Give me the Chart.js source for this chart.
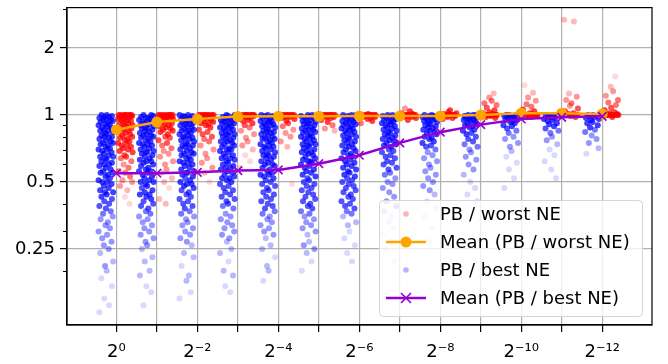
<!DOCTYPE html>
<html>
<head>
<meta charset="utf-8">
<script src="https://cdn.jsdelivr.net/npm/chart.js@4.4.1/dist/chart.umd.min.js"></script>
<style>
  html, body { margin: 0; padding: 0; background: #fff; }
  #chart { display: block; }
</style>
</head>
<body>
<canvas id="chart" width="668" height="364"></canvas>
<script>
// x categories: 2^0 ... 2^-12 (index i means 2^-i)
const categories = [0, 1, 2, 3, 4, 5, 6, 7, 8, 9, 10, 11, 12];
const xTickLabels = ["2⁰", "", "2⁻²", "", "2⁻⁴", "", "2⁻⁶", "", "2⁻⁸", "", "2⁻¹⁰", "", "2⁻¹²"];
const yTicks = [0.25, 0.5, 1, 2];
const yMinorTicks = [0.2, 0.3, 0.4, 0.6, 0.7, 0.8, 0.9, 3];

// mean lines
const worstMean = [0.86, 0.93, 0.96, 0.985, 0.987, 0.988, 0.99, 0.99, 0.99, 1.0, 1.02, 1.02, 1.01];
const bestMean = [0.548, 0.548, 0.553, 0.563, 0.567, 0.605, 0.66, 0.75, 0.838, 0.906, 0.96, 0.977, 0.987];

// PB / worst NE samples, one list per category
const worstNE = [
  [1,1,1,1,1,1,1,1,0.99,0.99,0.98,0.98,0.97,0.97,0.96,0.95,0.95,0.94,0.93,0.92,0.91,0.9,0.9,0.89,0.88,0.87,0.86,0.85,0.84,0.83,0.82,0.81,0.8,0.79,0.78,0.77,0.76,0.75,0.74,0.73,0.72,0.71,0.7,0.69,0.68,0.66,0.65,0.64,0.62,0.6,0.58,0.56,0.55,0.53,0.51,0.5,0.48,0.46,0.43,0.4],
  [1,1,1,1,1,1,1,1,0.99,0.99,0.98,0.98,0.97,0.96,0.96,0.95,0.94,0.93,0.92,0.91,0.9,0.89,0.88,0.87,0.86,0.85,0.84,0.82,0.8,0.79,0.77,0.75,0.73,0.71,0.69,0.67,0.65,0.62,0.6,0.57,0.55,0.52,0.5,0.47,0.42,0.4],
  [1,1,1,1,1,1,1,1,1,0.99,0.99,0.98,0.98,0.97,0.97,0.96,0.95,0.94,0.93,0.92,0.91,0.9,0.88,0.86,0.84,0.82,0.8,0.78,0.76,0.73,0.7,0.67,0.64,0.61,0.58,0.55,0.5],
  [1,1,1,1,1,1,1,1,1,1,0.99,0.99,0.99,0.98,0.98,0.97,0.96,0.95,0.94,0.92,0.9,0.88,0.85,0.82,0.79,0.76,0.73,0.7,0.66,0.62,0.58],
  [1,1,1,1,1,1,1,1,1,1,0.99,0.99,0.99,0.98,0.98,0.97,0.96,0.94,0.92,0.89,0.86,0.83,0.8,0.76,0.72,0.49],
  [1,1,1,1,1,1,1,1,1,1,0.99,0.99,0.99,0.98,0.98,0.97,0.95,0.93,0.9,0.87,0.85],
  [1,1,1,1,1,1,1,1,1,1,1.01,0.99,0.99,0.98,0.98,0.97,0.96,0.94,0.92],
  [1,1,1,1,1,1,1,1,1,1,1.01,1.02,1.04,1.07,0.99,0.99,0.98,0.98,0.97,0.95],
  [1,1,1,1,1,1,1,1,1,1,1.01,1.02,1.03,1.05,0.99,0.99,0.98,0.97,0.96],
  [1,1,1,1,1,1,1,1,1,1,1.01,1.02,1.03,1.05,1.08,1.11,1.13,1.16,1.2,1.25,0.99,0.99,0.98,0.97],
  [1,1,1,1,1,1,1,1,1,1,1.01,1.02,1.04,1.06,1.09,1.12,1.16,1.2,1.26,1.36,0.99,0.99,0.98],
  [1,1,1,1,1,1,1,1,1,1,1.01,1.02,1.04,1.07,1.1,1.13,1.17,1.21,1.25,2.63,2.68,0.99,0.98],
  [1,1,1,1,1,1,1,1,1,1,1.01,1.02,1.03,1.05,1.08,1.11,1.14,1.17,1.22,1.28,1.34,1.49,0.99,0.98]
];

// PB / best NE samples, one list per category
const bestNE = [
  [1,1,0.99,0.98,0.98,0.97,0.96,0.95,0.95,0.94,0.93,0.92,0.91,0.9,0.9,0.89,0.88,0.87,0.86,0.85,0.85,0.84,0.83,0.82,0.81,0.8,0.8,0.79,0.78,0.77,0.76,0.75,0.75,0.74,0.73,0.72,0.71,0.7,0.7,0.69,0.68,0.67,0.66,0.65,0.65,0.64,0.63,0.62,0.61,0.6,0.6,0.59,0.58,0.57,0.56,0.55,0.55,0.54,0.53,0.52,0.51,0.5,0.5,0.49,0.48,0.47,0.46,0.45,0.45,0.44,0.43,0.42,0.41,0.4,0.39,0.38,0.37,0.36,0.35,0.34,0.33,0.32,0.31,0.3,0.29,0.28,0.27,0.26,0.25,0.24,0.22,0.21,0.2,0.185,0.17,0.15,0.14,0.13],
  [1,1,0.99,0.98,0.97,0.97,0.96,0.95,0.94,0.93,0.93,0.92,0.91,0.9,0.89,0.88,0.87,0.87,0.86,0.85,0.84,0.83,0.82,0.81,0.81,0.8,0.79,0.78,0.77,0.76,0.75,0.74,0.74,0.73,0.72,0.71,0.7,0.69,0.68,0.68,0.67,0.66,0.65,0.64,0.63,0.62,0.62,0.61,0.6,0.59,0.58,0.57,0.56,0.56,0.55,0.54,0.53,0.52,0.51,0.5,0.5,0.49,0.48,0.47,0.46,0.45,0.44,0.44,0.43,0.42,0.41,0.4,0.39,0.38,0.37,0.36,0.35,0.34,0.33,0.32,0.31,0.3,0.29,0.28,0.27,0.26,0.25,0.23,0.22,0.2,0.19,0.17,0.16,0.14],
  [1,1,0.99,0.99,0.98,0.97,0.96,0.96,0.95,0.94,0.93,0.92,0.91,0.91,0.9,0.89,0.88,0.87,0.86,0.85,0.85,0.84,0.83,0.82,0.81,0.8,0.79,0.79,0.78,0.77,0.76,0.75,0.74,0.73,0.73,0.72,0.71,0.7,0.69,0.68,0.67,0.67,0.66,0.65,0.64,0.63,0.62,0.61,0.61,0.6,0.59,0.58,0.57,0.56,0.55,0.55,0.54,0.53,0.52,0.51,0.5,0.49,0.49,0.48,0.47,0.46,0.45,0.44,0.43,0.42,0.41,0.4,0.39,0.38,0.37,0.36,0.35,0.34,0.33,0.32,0.31,0.3,0.29,0.28,0.27,0.26,0.24,0.23,0.21,0.19,0.18,0.16,0.15],
  [1,1,0.99,0.98,0.98,0.97,0.96,0.95,0.95,0.94,0.93,0.92,0.92,0.91,0.9,0.89,0.88,0.88,0.87,0.86,0.85,0.84,0.83,0.82,0.82,0.81,0.8,0.79,0.78,0.77,0.76,0.76,0.75,0.74,0.73,0.72,0.71,0.7,0.7,0.69,0.68,0.67,0.66,0.65,0.64,0.64,0.63,0.62,0.61,0.6,0.59,0.58,0.58,0.57,0.56,0.55,0.54,0.53,0.52,0.52,0.51,0.5,0.49,0.48,0.47,0.46,0.45,0.44,0.43,0.42,0.41,0.4,0.39,0.38,0.36,0.35,0.34,0.33,0.32,0.31,0.3,0.29,0.28,0.27,0.25,0.24,0.22,0.2,0.19,0.17,0.16],
  [1,1,0.99,0.99,0.98,0.97,0.96,0.95,0.94,0.94,0.93,0.92,0.91,0.9,0.9,0.89,0.88,0.87,0.86,0.85,0.84,0.84,0.83,0.82,0.81,0.8,0.79,0.78,0.78,0.77,0.76,0.75,0.74,0.73,0.72,0.72,0.71,0.7,0.69,0.68,0.67,0.66,0.66,0.65,0.64,0.63,0.62,0.61,0.6,0.6,0.59,0.58,0.57,0.56,0.55,0.54,0.54,0.53,0.52,0.51,0.5,0.49,0.48,0.47,0.46,0.45,0.44,0.43,0.42,0.41,0.4,0.39,0.38,0.37,0.36,0.35,0.34,0.33,0.32,0.31,0.3,0.29,0.28,0.26,0.25,0.23,0.21,0.2,0.18],
  [1,1,0.99,0.98,0.97,0.97,0.96,0.95,0.94,0.93,0.92,0.92,0.91,0.9,0.89,0.88,0.87,0.86,0.86,0.85,0.84,0.83,0.82,0.81,0.8,0.8,0.79,0.78,0.77,0.76,0.75,0.74,0.74,0.73,0.72,0.71,0.7,0.69,0.68,0.68,0.67,0.66,0.65,0.64,0.63,0.62,0.62,0.61,0.6,0.59,0.58,0.57,0.56,0.55,0.54,0.53,0.52,0.51,0.5,0.49,0.48,0.47,0.46,0.45,0.44,0.43,0.42,0.41,0.4,0.39,0.38,0.37,0.36,0.35,0.34,0.33,0.32,0.31,0.3,0.29,0.27,0.26,0.25,0.24,0.22,0.2],
  [1,1,1,0.99,0.98,0.98,0.97,0.96,0.95,0.94,0.93,0.93,0.92,0.91,0.9,0.89,0.88,0.87,0.87,0.86,0.85,0.84,0.83,0.82,0.81,0.8,0.79,0.78,0.77,0.76,0.75,0.74,0.73,0.72,0.71,0.7,0.69,0.68,0.67,0.66,0.65,0.64,0.63,0.62,0.61,0.6,0.59,0.58,0.57,0.56,0.55,0.54,0.53,0.52,0.51,0.5,0.49,0.48,0.47,0.46,0.45,0.44,0.43,0.42,0.41,0.4,0.39,0.38,0.37,0.36,0.35,0.33,0.32,0.3,0.28,0.26,0.24,0.22],
  [1,1,0.99,0.98,0.97,0.97,0.96,0.95,0.94,0.93,0.93,0.92,0.91,0.9,0.89,0.88,0.87,0.86,0.85,0.84,0.83,0.82,0.81,0.8,0.79,0.78,0.77,0.76,0.75,0.74,0.73,0.72,0.7,0.69,0.68,0.66,0.65,0.64,0.62,0.61,0.6,0.58,0.57,0.55,0.54,0.52,0.5,0.49,0.47,0.45,0.43,0.41,0.39,0.37,0.35,0.33,0.31,0.29,0.27,0.25,0.22],
  [1,1,0.99,0.99,0.98,0.97,0.97,0.96,0.95,0.95,0.94,0.93,0.92,0.91,0.9,0.89,0.88,0.87,0.86,0.85,0.84,0.83,0.82,0.8,0.79,0.78,0.76,0.75,0.73,0.72,0.7,0.68,0.66,0.64,0.62,0.6,0.58,0.56,0.54,0.52,0.5,0.48,0.46,0.44,0.41,0.38,0.35,0.31,0.27],
  [1,1,1,0.99,0.99,0.98,0.98,0.97,0.97,0.96,0.95,0.95,0.94,0.93,0.92,0.91,0.9,0.89,0.88,0.86,0.85,0.83,0.82,0.8,0.78,0.76,0.74,0.72,0.7,0.68,0.65,0.63,0.6,0.57,0.54,0.5,0.47,0.44,0.41],
  [1,1,1,0.99,0.99,0.98,0.98,0.97,0.96,0.95,0.94,0.93,0.92,0.9,0.89,0.87,0.85,0.83,0.8,0.78,0.75,0.72,0.69,0.65,0.61,0.57,0.52,0.47],
  [1,1,0.99,0.99,0.98,0.97,0.96,0.95,0.94,0.92,0.91,0.89,0.87,0.85,0.83,0.8,0.77,0.74,0.7,0.66,0.62,0.57,0.52],
  [1,1,0.99,0.99,0.98,0.97,0.96,0.95,0.93,0.92,0.9,0.88,0.86,0.84,0.81,0.78,0.75,0.71,0.67]
];

// fixed horizontal spread for the strip plot (category units)
const jitter = [0.02, -0.11, 0.15, -0.04, 0.08, -0.16, 0.0, 0.12, -0.07, 0.17, -0.13, 0.05,
                -0.01, 0.1, -0.18, 0.03, -0.09, 0.14, -0.05, 0.07, -0.14, 0.18, -0.02];

// each point remembers how crowded its neighbourhood is, so overlap looks like alpha build-up
function cloud(lists, shift) {
  const pts = [];
  lists.forEach((vals, i) => {
    vals.forEach((v, k) => {
      const n = vals.filter(w => Math.abs(Math.log2(w / v)) < 0.08).length;
      pts.push({ x: categories[i] + shift + jitter[(k + 7 * i) % jitter.length], y: v, n: n });
    });
  });
  return pts;
}

function crowdAlpha(n) {
  return Math.min(0.75, 0.02 + 0.13 * n).toFixed(2);
}

const font = { family: "DejaVu Sans", size: 18 };

const frameAndMinor = {
  id: "frameAndMinor",
  afterDatasetsDraw(chart) {
    const { ctx, chartArea: a } = chart;
    const y = chart.scales.y;
    ctx.save();
    ctx.strokeStyle = "#000";
    ctx.lineWidth = 1.2;
    ctx.strokeRect(a.left, a.top, a.right - a.left, a.bottom - a.top);
    ctx.lineWidth = 1;
    yMinorTicks.forEach(v => {
      const py = Math.round(y.getPixelForValue(v)) + 0.5;
      ctx.beginPath();
      ctx.moveTo(a.left - 4, py);
      ctx.lineTo(a.left, py);
      ctx.stroke();
    });
    ctx.restore();
  }
};

const boxLegend = {
  id: "boxLegend",
  afterDraw(chart) {
    const ctx = chart.ctx;
    const x0 = 379, y0 = 200, w = 263, h = 116;
    ctx.save();
    ctx.beginPath();
    ctx.roundRect(x0 + 0.5, y0 + 0.5, w, h, 4);
    ctx.fillStyle = "rgba(255,255,255,0.8)";
    ctx.fill();
    ctx.strokeStyle = "#d5d5d5";
    ctx.lineWidth = 1;
    ctx.stroke();

    const rows = [
      { label: "PB / worst NE", kind: "dot", color: "rgba(255,0,0,0.3)" },
      { label: "Mean (PB / worst NE)", kind: "circle", color: "#ffa500" },
      { label: "PB / best NE", kind: "dot", color: "rgba(0,0,255,0.3)" },
      { label: "Mean (PB / best NE)", kind: "cross", color: "#9400d3" }
    ];
    const rowY = [214, 242, 270, 298];
    ctx.font = "18px 'DejaVu Sans'";
    ctx.textBaseline = "middle";
    rows.forEach((r, i) => {
      const cy = rowY[i];
      const cx = 406;
      if (r.kind === "dot") {
        ctx.fillStyle = r.color;
        ctx.beginPath();
        ctx.arc(cx, cy, 2.8, 0, Math.PI * 2);
        ctx.fill();
      } else {
        ctx.strokeStyle = r.color;
        ctx.lineWidth = 2.5;
        ctx.beginPath();
        ctx.moveTo(386, cy);
        ctx.lineTo(426, cy);
        ctx.stroke();
        if (r.kind === "circle") {
          ctx.fillStyle = r.color;
          ctx.beginPath();
          ctx.arc(cx, cy, 5.5, 0, Math.PI * 2);
          ctx.fill();
        } else {
          ctx.lineWidth = 1.6;
          ctx.beginPath();
          ctx.moveTo(cx - 5, cy - 5); ctx.lineTo(cx + 5, cy + 5);
          ctx.moveTo(cx - 5, cy + 5); ctx.lineTo(cx + 5, cy - 5);
          ctx.stroke();
        }
      }
      ctx.fillStyle = "#000";
      ctx.fillText(r.label, 440, cy + 1);
    });
    ctx.restore();
  }
};

new Chart(document.getElementById("chart"), {
  type: "scatter",
  data: {
    datasets: [
      {
        label: "PB / worst NE",
        data: cloud(worstNE, 0.22),
        backgroundColor: c => "rgba(255,0,0," + crowdAlpha(c.raw ? c.raw.n : 1) + ")",
        borderWidth: 0,
        pointRadius: 3,
        order: 4
      },
      {
        label: "PB / best NE",
        data: cloud(bestNE, -0.26),
        backgroundColor: c => "rgba(0,0,255," + crowdAlpha(c.raw ? c.raw.n : 1) + ")",
        borderWidth: 0,
        pointRadius: 3,
        order: 3
      },
      {
        label: "Mean (PB / worst NE)",
        data: worstMean.map((m, i) => ({ x: categories[i], y: m })),
        showLine: true,
        borderColor: "#ffa500",
        borderWidth: 2.5,
        backgroundColor: "#ffa500",
        pointRadius: 5.5,
        pointBorderWidth: 0,
        order: 2
      },
      {
        label: "Mean (PB / best NE)",
        data: bestMean.map((m, i) => ({ x: categories[i], y: m })),
        showLine: true,
        borderColor: "#9400d3",
        borderWidth: 2.5,
        pointStyle: "crossRot",
        pointRadius: 6,
        pointBorderWidth: 1.6,
        pointBorderColor: "#9400d3",
        order: 1
      }
    ]
  },
  options: {
    responsive: false,
    animation: false,
    devicePixelRatio: 1,
    layout: { padding: { top: 4, right: 16, left: 0, bottom: 0 } },
    plugins: { legend: { display: false }, tooltip: { enabled: false } },
    scales: {
      x: {
        type: "linear",
        min: -1.22,
        max: 13.23,
        afterBuildTicks: s => { s.ticks = categories.map(v => ({ value: v })); },
        afterFit: s => { s.height = 39; s.paddingLeft = 0; s.paddingRight = 0; },
        ticks: {
          callback: v => xTickLabels[v] ?? "",
          font: font,
          color: "#000",
          padding: 10,
          maxRotation: 0,
          autoSkip: false
        },
        grid: { color: "#b0b0b0", lineWidth: 1.2, tickColor: "#000", tickLength: 7 },
        border: { color: "#000", width: 1.2 }
      },
      y: {
        type: "logarithmic",
        min: 0.114,
        max: 3.04,
        afterBuildTicks: s => { s.ticks = yTicks.map(v => ({ value: v })); },
        afterFit: s => { s.width = 67; s.paddingTop = 0; s.paddingBottom = 0; },
        ticks: {
          callback: v => String(v),
          font: font,
          color: "#000",
          padding: 5,
          autoSkip: false
        },
        grid: { color: "#b0b0b0", lineWidth: 1.2, tickColor: "#000", tickLength: 7 },
        border: { color: "#000", width: 1.2 }
      }
    }
  },
  plugins: [frameAndMinor, boxLegend]
});
</script>
</body>
</html>
